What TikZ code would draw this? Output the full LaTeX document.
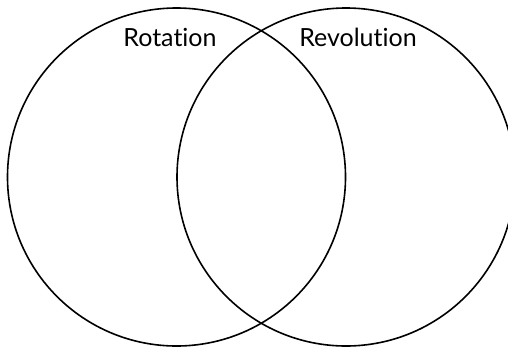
\documentclass[tikz,border=0pt]{standalone}
\usepackage{fontspec}
\setmainfont[Ligatures={NoCommon}]{Lato}
\begin{document}
\begin{tikzpicture}[x=1pt,y=-1pt,
  ring/.style={circle,draw=black,line width=1.6pt,minimum size=338pt,inner sep=0pt},
  lbl/.style={font=\fontsize{25}{27}\selectfont,inner sep=0pt,anchor=base}]
\useasboundingbox (0,0) rectangle (508,348);
\begin{scope}
\clip (0,0) rectangle (508,348);
\node[ring] (rot) at (176.5,177) {};
\node[ring] (rev) at (346,177) {};
\end{scope}
\node[lbl] (t1) at (170,46) {Rotation};
\node[lbl] (t2) at (358,46) {Revolution};
\end{tikzpicture}
\end{document}
